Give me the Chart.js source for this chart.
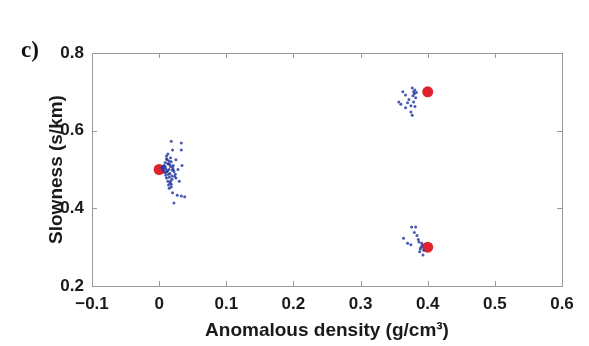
<!DOCTYPE html>
<html>
<head>
<meta charset="utf-8">
<script src="https://cdn.jsdelivr.net/npm/chart.js@4"></script>
<style>
html,body{margin:0;padding:0;background:#fff}
</style>
</head>
<body>
<canvas id="myChart" width="589" height="346"></canvas>
<script>
// modelos verdadeiros (pontos vermelhos)
let trueX = [0, 0.4, 0.4];
let trueY = [0.5, 0.7, 0.3];

// solucoes da inversao (pontos azuis)
let solX = [
  0.004,0.006,0.008,0.010,0.012,0.014,0.016,0.018,0.020,0.010,0.012,0.015,0.017,0.008,0.013,
  0.019,0.022,0.011,0.014,0.016,0.009,0.018,0.021,0.024,0.013,0.007,0.015,0.020,0.017,0.011,
  0.005,0.009,0.012,0.016,0.019,0.014,0.010,0.017,0.006,0.013,0.021,0.015,0.018,0.011,0.023,
  0.018,0.033,0.033,0.020,0.025,0.034,0.025,0.015,0.020,0.027,0.033,0.038,0.022,0.028,0.030,
  0.363,0.367,0.377,0.379,0.382,0.379,0.375,0.357,0.360,0.367,0.375,0.377,0.380,0.372,0.381,
  0.378,0.383,0.370,0.381,
  0.376,0.382,0.364,0.370,0.375,0.387,0.388,0.393,0.384,0.386,0.390,0.380,0.392,0.389,0.391,0.394
];
let solY = [
  0.505,0.498,0.510,0.502,0.495,0.515,0.490,0.520,0.505,0.485,0.525,0.480,0.530,0.492,0.470,
  0.475,0.495,0.535,0.460,0.465,0.518,0.455,0.510,0.488,0.540,0.500,0.500,0.498,0.508,0.478,
  0.503,0.507,0.497,0.512,0.483,0.488,0.493,0.470,0.509,0.515,0.500,0.522,0.462,0.528,0.482,
  0.573,0.568,0.550,0.550,0.525,0.510,0.478,0.452,0.440,0.434,0.432,0.430,0.414,0.500,0.470,
  0.700,0.692,0.710,0.700,0.685,0.674,0.664,0.674,0.668,0.659,0.648,0.640,0.695,0.680,0.705,
  0.690,0.698,0.672,0.662,
  0.352,0.352,0.323,0.310,0.306,0.313,0.288,0.280,0.330,0.320,0.300,0.338,0.305,0.295,0.310,0.292
];

let xTicks = [-0.1, 0, 0.1, 0.2, 0.3, 0.4, 0.5, 0.6];
let yTicks = [0.2, 0.4, 0.6, 0.8];

function pares(xs, ys){
  return xs.map((x, i) => ({x: x, y: ys[i]}));
}

function fmt(v){
  let s = Math.abs(v) < 1e-9 ? '0' : v.toFixed(1);
  return s.replace('-', '\u2212');
}

// moldura estilo MATLAB, ticks para dentro e o rotulo "c)"
const moldura = {
  id: 'moldura',
  afterDraw(chart){
    const c = chart.ctx, a = chart.chartArea;
    const sx = chart.scales.x, sy = chart.scales.y;
    c.save();
    c.strokeStyle = '#999999';
    c.lineWidth = 1;
    c.strokeRect(a.left + 0.5, a.top + 0.5, a.right - a.left, a.bottom - a.top);
    c.beginPath();
    xTicks.forEach(v => {
      if (v === xTicks[0] || v === xTicks[xTicks.length - 1]) return;
      let p = Math.round(sx.getPixelForValue(v)) + 0.5;
      c.moveTo(p, a.bottom); c.lineTo(p, a.bottom - 5);
      c.moveTo(p, a.top); c.lineTo(p, a.top + 5);
    });
    yTicks.forEach(v => {
      if (v === yTicks[0] || v === yTicks[yTicks.length - 1]) return;
      let p = Math.round(sy.getPixelForValue(v)) + 0.5;
      c.moveTo(a.left, p); c.lineTo(a.left + 5, p);
      c.moveTo(a.right, p); c.lineTo(a.right - 5, p);
    });
    c.stroke();
    c.fillStyle = '#111';
    c.font = 'bold 23px "Liberation Serif", "DejaVu Serif", serif';
    c.textBaseline = 'middle';
    c.textAlign = 'left';
    c.fillText('c)', 21, 51);
    c.restore();
  }
};

let ctx = document.getElementById('myChart').getContext('2d');
let myChart = new Chart(ctx, {
  type: 'scatter',
  data: {
    datasets: [
      {
        label: 'Solucoes',
        data: pares(solX, solY),
        backgroundColor: 'rgba(40, 60, 160, 0.85)',
        borderColor: 'rgba(40, 60, 160, 0.85)',
        pointRadius: 1.5,
        borderWidth: 0,
        order: 0
      },
      {
        label: 'Verdadeiro',
        data: pares(trueX, trueY),
        backgroundColor: '#e2222a',
        borderColor: '#e2222a',
        pointRadius: 5.5,
        borderWidth: 0,
        order: 1
      }
    ]
  },
  options: {
    responsive: false,
    animation: false,
    layout: { padding: { left: 45, right: 27, top: 53, bottom: 4 } },
    plugins: {
      legend: { display: false },
      tooltip: { enabled: false }
    },
    scales: {
      x: {
        type: 'linear',
        min: -0.1,
        max: 0.6,
        afterBuildTicks: s => { s.ticks = xTicks.map(v => ({value: v})); },
        afterFit: s => { s.height = 56; },
        grid: { display: false, drawTicks: false, tickLength: 0 },
        border: { display: false },
        ticks: {
          callback: v => fmt(v),
          color: '#1a1a1a',
          font: { family: '"Liberation Sans", Arial, sans-serif', size: 17, weight: 'bold' },
          padding: 8,
          maxRotation: 0,
          autoSkip: false
        },
        title: {
          display: true,
          text: 'Anomalous density (g/cm\u00b3)',
          color: '#1a1a1a',
          font: { family: '"Liberation Sans", Arial, sans-serif', size: 19, weight: 'bold' },
          padding: { top: 0, bottom: 0 }
        }
      },
      y: {
        type: 'linear',
        min: 0.2,
        max: 0.8,
        afterBuildTicks: s => { s.ticks = yTicks.map(v => ({value: v})); },
        afterFit: s => { s.width = 47; },
        grid: { display: false, drawTicks: false, tickLength: 0 },
        border: { display: false },
        ticks: {
          callback: v => fmt(v),
          color: '#1a1a1a',
          font: { family: '"Liberation Sans", Arial, sans-serif', size: 17, weight: 'bold' },
          padding: 8,
          autoSkip: false
        },
        title: {
          display: true,
          text: 'Slowness (s/km)',
          color: '#1a1a1a',
          font: { family: '"Liberation Sans", Arial, sans-serif', size: 19, weight: 'bold' },
          padding: { top: 0, bottom: 0 }
        }
      }
    }
  },
  plugins: [moldura]
});
</script>
</body>
</html>
